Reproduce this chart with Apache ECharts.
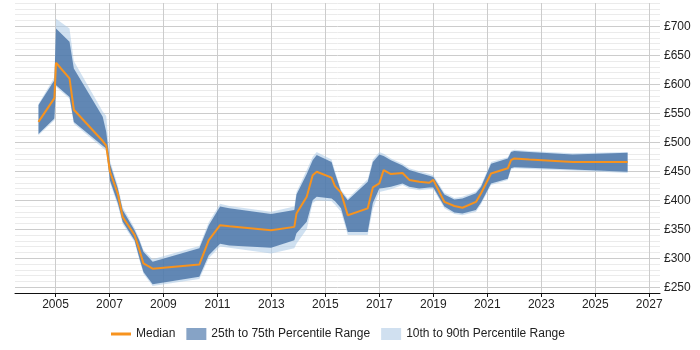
<!DOCTYPE html>
<html>
<head>
<meta charset="utf-8">
<script src="https://cdn.jsdelivr.net/npm/echarts@6/dist/echarts.min.js"></script>
<style>
  html, body { margin: 0; padding: 0; background: #fff; }
  #chart { width: 700px; height: 350px; }
</style>
</head>
<body>
<div id="chart"></div>
<script>
// sample dates (decimal years) shared by every series
var years = [2004.37, 2004.96, 2005.02, 2005.52, 2005.68, 2006.75, 2006.88, 2007.02, 2007.31, 2007.49, 2007.93,
    2008.11, 2008.26, 2008.6, 2010.33, 2010.68, 2011.1, 2011.44, 2012.99, 2013.85, 2013.93,
    2014.31, 2014.53, 2014.68, 2015.23, 2015.36, 2015.58, 2015.83, 2016.57, 2016.76, 2017.0,
    2017.16, 2017.43, 2017.86, 2018.11, 2018.48, 2018.85, 2019.0, 2019.41, 2019.78, 2020.08,
    2020.58, 2020.77, 2021.14, 2021.76, 2021.88, 2022.0, 2022.56, 2024.16, 2026.2];

var median = [535, 576, 637, 610, 556, 502, 494, 449, 411, 371, 340,
    314, 291, 282, 289, 331, 357, 355, 348, 354, 377,
    406, 443, 449, 439, 424, 413, 374, 386, 422, 429,
    452, 445, 447, 435, 432, 430, 435, 397, 390, 387,
    397, 412, 446, 455, 469, 472, 470, 466, 466];

var p25 = [514, 541, 598, 578, 535, 494, 489, 434, 395, 363, 331,
    300, 276, 255, 268, 305, 325, 322, 318, 331, 343,
    363, 400, 406, 403, 398, 386, 345, 345, 395, 420,
    421, 423, 429, 423, 420, 422, 422, 389, 379, 377,
    383, 396, 429, 437, 455, 457, 456, 453, 449];

var p75 = [564, 607, 696, 673, 627, 544, 518, 463, 420, 383, 348,
    330, 311, 294, 317, 357, 389, 386, 376, 383, 410,
    445, 469, 478, 466, 446, 415, 400, 432, 466, 479,
    476, 469, 460, 452, 447, 442, 440, 410, 401, 403,
    412, 423, 463, 472, 483, 485, 483, 479, 482];

var p10 = [512, 538, 595, 575, 532, 490, 485, 430, 391, 359, 328,
    297, 273, 252, 264, 300, 320, 318, 308, 317, 325,
    350, 395, 400, 398, 392, 380, 340, 340, 385, 414,
    416, 419, 426, 420, 417, 419, 419, 386, 376, 374,
    380, 393, 426, 435, 453, 455, 454, 451, 447];

var p90 = [566, 612, 713, 696, 640, 553, 545, 468, 425, 388, 352,
    333, 314, 298, 321, 362, 394, 390, 380, 389, 414,
    452, 475, 483, 470, 450, 418, 403, 436, 470, 483,
    480, 472, 463, 455, 450, 445, 443, 413, 404, 406,
    415, 426, 466, 474, 485, 487, 485, 481, 483];

var yearTicks = [2005, 2007, 2009, 2011, 2013, 2015, 2017, 2019, 2021, 2023, 2025, 2027];

var LIGHT = 'rgba(170,200,230,0.55)';
var DARK = 'rgba(60,105,160,0.75)';
var ORANGE = '#f7931e';

// band drawn as one polygon: upper edge forwards, lower edge backwards
function bandSeries(name, lo, hi, color) {
    return {
        name: name,
        type: 'custom',
        silent: true,
        itemStyle: { color: color },
        data: years.map(function (y, i) { return [y, lo[i], hi[i]]; }),
        encode: { x: 0, y: [1, 2] },
        renderItem: function (params, api) {
            if (params.dataIndex !== 0) return;
            var pts = [];
            for (var i = 0; i < years.length; i++) pts.push(api.coord([years[i], hi[i]]));
            for (var j = years.length - 1; j >= 0; j--) pts.push(api.coord([years[j], lo[j]]));
            return {
                type: 'polygon',
                shape: { points: pts },
                style: { fill: color }
            };
        }
    };
}

var chart = echarts.init(document.getElementById('chart'));

chart.setOption({
    animation: false,
    textStyle: { fontFamily: 'Liberation Sans, Arial, sans-serif' },
    grid: { left: 15, right: 40, top: 3, bottom: 57 },
    legend: {
        left: 106,
        top: 323,
        itemWidth: 20,
        itemHeight: 12,
        itemGap: 11,
        textStyle: { fontSize: 12, color: '#222' },
        data: [
            { name: 'Median', icon: 'path://M0,0H20V3H0Z' },
            { name: '25th to 75th Percentile Range', icon: 'rect', itemStyle: { color: '#86a3c6' } },
            { name: '10th to 90th Percentile Range', icon: 'rect', itemStyle: { color: '#d0e0f0' } }
        ]
    },
    xAxis: {
        type: 'value',
        min: 2003.5,
        max: 2027.4,
        axisLine: { lineStyle: { color: '#111', width: 1 } },
        axisTick: { show: true, customValues: yearTicks, length: 4, lineStyle: { color: '#111' } },
        axisLabel: { customValues: yearTicks, color: '#222', fontSize: 12, margin: 6,
            formatter: function (v) { return String(v); } },
        splitLine: { show: true, lineStyle: { color: '#cccccc' } }
    },
    yAxis: {
        type: 'value',
        position: 'right',
        min: 240,
        max: 740,
        interval: 10,
        axisLine: { show: false },
        axisTick: { show: false },
        axisLabel: {
            interval: 0,
            color: '#222',
            fontSize: 12,
            margin: 4,
            formatter: function (v) { return v % 50 === 0 ? '£' + v : ''; }
        },
        splitLine: { show: true, lineStyle: { color: ['#ebebeb', '#cccccc', '#ebebeb', '#ebebeb', '#ebebeb'] } }
    },
    series: [
        bandSeries('10th to 90th Percentile Range', p10, p90, LIGHT),
        bandSeries('25th to 75th Percentile Range', p25, p75, DARK),
        {
            name: 'Median', type: 'line', symbol: 'none',
            data: years.map(function (y, i) { return [y, median[i]]; }),
            itemStyle: { color: ORANGE },
            lineStyle: { color: ORANGE, width: 2 }
        }
    ]
});
</script>
</body>
</html>
